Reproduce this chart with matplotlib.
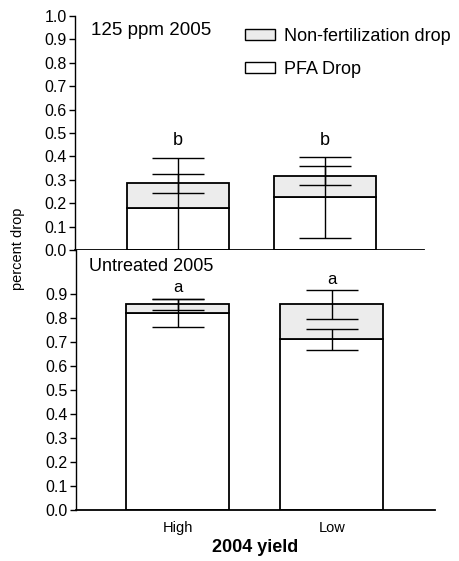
import matplotlib.pyplot as plt
import matplotlib.patches as mpatches
import numpy as np

plt.rcParams['font.family'] = ['Liberation Sans', 'DejaVu Sans']

# --- data ---
yield_levels = ['High', 'Low']

# 125 ppm 2005
pfa_125 = [0.18, 0.225]
pfa_125_err = [0.215, 0.172]
total_125 = [0.285, 0.318]
total_125_err = [0.04, 0.042]
letters_125 = ['b', 'b']
letters_125_y = [0.47, 0.47]

# Untreated 2005
pfa_untr = [0.82, 0.711]
pfa_untr_err = [0.058, 0.043]
total_untr = [0.857, 0.857]
total_untr_err = [0.022, 0.06]
letters_untr = ['a', 'a']
letters_untr_y = [0.925, 0.96]

grey = '#ececec'
W, H = 459, 561
fig = plt.figure(figsize=(W / 100, H / 100), dpi=100)

# axes placed in pixel units of the 459x561 canvas
ax_top = fig.add_axes([75 / W, 1 - 250 / H, 349 / W, 234 / H])
ax_bot = fig.add_axes([76 / W, 1 - 510 / H, 359 / W, 260 / H])


def draw_panel(ax, pfa, pfa_err, total, total_err, letters, letters_y, width, lsize):
    x = np.arange(len(yield_levels))
    nonfert = np.array(total) - np.array(pfa)
    ax.bar(x, pfa, width=width, color='white', edgecolor='black', linewidth=1.3, zorder=2)
    ax.bar(x, nonfert, bottom=pfa, width=width, color=grey, edgecolor='black',
           linewidth=1.3, zorder=2)
    ax.errorbar(x, pfa, yerr=pfa_err, fmt='none', ecolor='black', elinewidth=1,
                capsize=18.7, capthick=1, zorder=3)
    ax.errorbar(x, total, yerr=total_err, fmt='none', ecolor='black', elinewidth=1,
                capsize=18.7, capthick=1, zorder=3)
    for xi, let, ly in zip(x, letters, letters_y):
        ax.text(xi, ly, let, ha='center', va='center', fontsize=lsize)
    for s in ['top', 'right']:
        ax.spines[s].set_visible(False)
    ax.spines['left'].set_linewidth(1)
    ax.spines['bottom'].set_linewidth(1.3)
    ax.tick_params(axis='y', length=4.3, width=1, pad=1.5, labelsize=11.5)
    ax.tick_params(axis='x', length=0)
    return x


x = draw_panel(ax_top, pfa_125, pfa_125_err, total_125, total_125_err,
               letters_125, letters_125_y, 0.696, 13)
ax_top.set_xlim(-0.703, 1.679)
ax_top.set_ylim(0, 1.0)
ax_top.set_yticks(np.arange(0, 1.01, 0.1))
ax_top.set_yticklabels([f'{v:.1f}' for v in np.arange(0, 1.01, 0.1)])
ax_top.set_xticks([])
ax_top.text(0.046, 0.94, '125 ppm 2005', transform=ax_top.transAxes,
            ha='left', va='center', fontsize=13.5)

handles = [mpatches.Patch(facecolor=grey, edgecolor='black', linewidth=1, label='Non-fertilization drop'),
           mpatches.Patch(facecolor='white', edgecolor='black', linewidth=1, label='PFA Drop')]
ax_top.legend(handles=handles, loc='upper left', bbox_to_anchor=(0.487, 0.948),
              frameon=False, fontsize=13, borderpad=0, borderaxespad=0,
              handlelength=1.67, handleheight=0.55, handletextpad=0.5, labelspacing=0.85)

draw_panel(ax_bot, pfa_untr, pfa_untr_err, total_untr, total_untr_err,
           letters_untr, letters_untr_y, 0.669, 12)
ax_bot.set_xlim(-0.662, 1.669)
ax_bot.set_ylim(0, 1.083)
ax_bot.set_yticks(np.arange(0, 0.91, 0.1))
ax_bot.set_yticklabels([f'{v:.1f}' for v in np.arange(0, 0.91, 0.1)])
ax_bot.set_xticks(x)
ax_bot.set_xticklabels(yield_levels, fontsize=10.5)
ax_bot.tick_params(axis='x', pad=8)
ax_bot.text(0.036, 0.935, 'Untreated 2005', transform=ax_bot.transAxes,
            ha='left', va='center', fontsize=13)
ax_bot.set_xlabel('2004 yield', fontsize=13, fontweight='bold', labelpad=3)

fig.text(18 / W, 1 - 249 / H, 'percent drop', rotation=90, ha='center', va='center', fontsize=10.5)

fig.savefig('out.png', dpi=100)
